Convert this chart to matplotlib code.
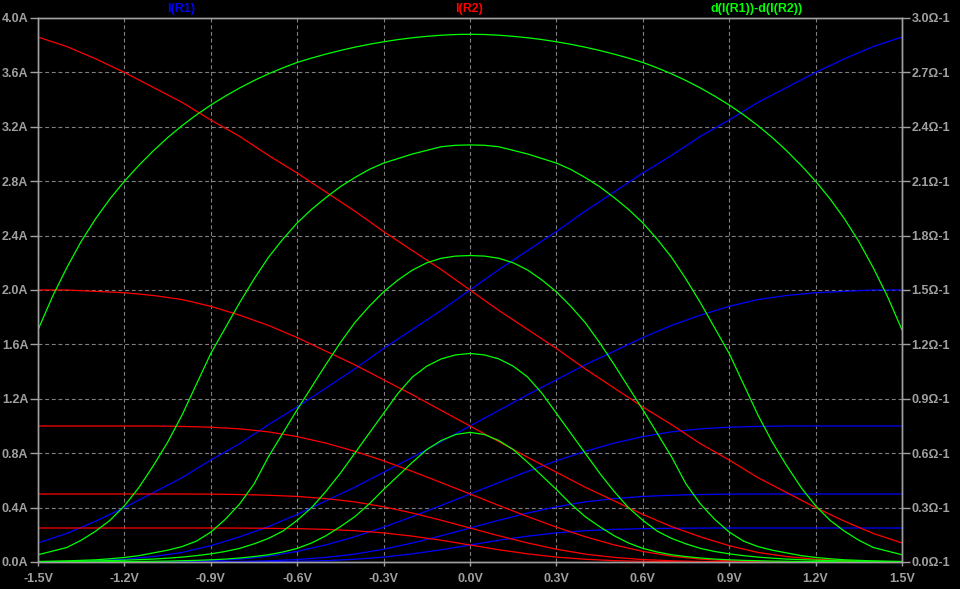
import numpy as np
import matplotlib
matplotlib.use("Agg")
import matplotlib.pyplot as plt

# sweep of the differential input voltage (V)
v_in = np.linspace(-1.5, 1.5, 31)     # currents read every 0.1 V
v_fine = np.linspace(-1.5, 1.5, 61)   # derivative read every 0.05 V

# I(R1) for each tail current (A)
i_r1_4a = [0.14, 0.21, 0.30, 0.40, 0.51, 0.62, 0.75, 0.87, 1.01, 1.14, 1.28, 1.42, 1.57, 1.71, 1.85, 2.00,
           2.15, 2.29, 2.43, 2.58, 2.72, 2.86, 2.99, 3.13, 3.25, 3.38, 3.49, 3.60, 3.70, 3.79, 3.86]
i_r1_2a = [0.00, 0.00, 0.01, 0.02, 0.04, 0.07, 0.12, 0.185, 0.26, 0.35, 0.45, 0.55, 0.66, 0.77, 0.885, 1.00,
           1.115, 1.23, 1.34, 1.45, 1.55, 1.65, 1.74, 1.815, 1.88, 1.93, 1.96, 1.98, 1.99, 2.00, 2.00]
i_r1_1a = [0.0, 0.0, 0.0, 0.0, 0.0, 0.003, 0.009, 0.021, 0.043, 0.078, 0.126, 0.186, 0.256, 0.334, 0.416, 0.50,
           0.584, 0.666, 0.744, 0.814, 0.874, 0.922, 0.957, 0.979, 0.991, 0.997, 1.0, 1.0, 1.0, 1.0, 1.0]
i_r1_05a = [0.0, 0.0, 0.0, 0.0, 0.0, 0.0, 0.001, 0.004, 0.009, 0.018, 0.034, 0.058, 0.094, 0.140, 0.193, 0.25,
            0.307, 0.360, 0.406, 0.442, 0.466, 0.482, 0.491, 0.496, 0.499, 0.50, 0.50, 0.50, 0.50, 0.50, 0.50]
i_r1_025a = [0.0, 0.0, 0.0, 0.0, 0.0, 0.0, 0.0, 0.0005, 0.002, 0.005, 0.010, 0.020, 0.036, 0.060, 0.090, 0.125,
             0.160, 0.190, 0.214, 0.230, 0.240, 0.245, 0.248, 0.2495, 0.25, 0.25, 0.25, 0.25, 0.25, 0.25, 0.25]

# d(I(R1))-d(I(R2)) (1/ohm), right axis
g_4a = [1.28, 1.463, 1.623, 1.768, 1.893, 2.003, 2.10, 2.187, 2.267, 2.34, 2.406, 2.466, 2.52, 2.569, 2.614,
        2.655, 2.692, 2.725, 2.755, 2.779, 2.801, 2.821, 2.839, 2.855, 2.869, 2.881, 2.891, 2.899, 2.905, 2.909,
        2.91,
        2.909, 2.905, 2.899, 2.891, 2.881, 2.869, 2.855, 2.839, 2.821, 2.801, 2.779, 2.755, 2.725, 2.692,
        2.655, 2.614, 2.569, 2.52, 2.466, 2.406, 2.34, 2.267, 2.187, 2.10, 2.003, 1.893, 1.768, 1.623, 1.463, 1.28]
g_2a = [0.04, 0.06, 0.08, 0.12, 0.17, 0.23, 0.31, 0.41, 0.53, 0.66, 0.81, 0.98, 1.15, 1.29, 1.43, 1.56,
        1.68, 1.78, 1.87, 1.945, 2.01, 2.07, 2.12, 2.165, 2.20, 2.225, 2.25, 2.27, 2.29, 2.298, 2.30,
        2.298, 2.29, 2.27, 2.25, 2.225, 2.20, 2.165, 2.12, 2.07, 2.01, 1.945, 1.87, 1.78, 1.68, 1.56,
        1.43, 1.29, 1.15, 0.98, 0.81, 0.66, 0.53, 0.41, 0.31, 0.23, 0.17, 0.12, 0.08, 0.06, 0.04]
g_1a = [0.003, 0.004, 0.006, 0.009, 0.012, 0.018, 0.025, 0.035, 0.05, 0.065, 0.085, 0.115, 0.165, 0.235,
        0.32, 0.43, 0.58, 0.71, 0.84, 0.965, 1.09, 1.21, 1.32, 1.41, 1.49, 1.555, 1.61, 1.65, 1.675, 1.687,
        1.69,
        1.687, 1.675, 1.65, 1.61, 1.555, 1.49, 1.41, 1.32, 1.21, 1.09, 0.965, 0.84, 0.71, 0.58, 0.43,
        0.32, 0.235, 0.165, 0.115, 0.085, 0.065, 0.05, 0.035, 0.025, 0.018, 0.012, 0.009, 0.006, 0.004, 0.003]
g_05a = [0.002, 0.003, 0.004, 0.005, 0.006, 0.008, 0.010, 0.013, 0.016, 0.021, 0.027, 0.035, 0.045, 0.058,
         0.075, 0.10, 0.13, 0.17, 0.23, 0.30, 0.39, 0.49, 0.60, 0.71, 0.82, 0.93, 1.02, 1.08, 1.12, 1.142,
         1.15,
         1.142, 1.12, 1.08, 1.02, 0.93, 0.82, 0.71, 0.60, 0.49, 0.39, 0.30, 0.23, 0.17, 0.13, 0.10,
         0.075, 0.058, 0.045, 0.035, 0.027, 0.021, 0.016, 0.013, 0.010, 0.008, 0.006, 0.005, 0.004, 0.003, 0.002]
g_025a = [0.0, 0.0, 0.001, 0.001, 0.001, 0.002, 0.002, 0.003, 0.004, 0.005, 0.007, 0.009, 0.012, 0.016,
          0.022, 0.03, 0.04, 0.055, 0.075, 0.105, 0.145, 0.195, 0.25, 0.32, 0.40, 0.475, 0.55, 0.62, 0.67,
          0.703, 0.715,
          0.703, 0.67, 0.62, 0.55, 0.475, 0.40, 0.32, 0.25, 0.195, 0.145, 0.105, 0.075, 0.055, 0.04, 0.03,
          0.022, 0.016, 0.012, 0.009, 0.007, 0.005, 0.004, 0.003, 0.002, 0.002, 0.001, 0.001, 0.001, 0.0, 0.0]

i_r1_curves = [i_r1_4a, i_r1_2a, i_r1_1a, i_r1_05a, i_r1_025a]
# I(R2) is the mirror image of I(R1)
i_r2_curves = [c[::-1] for c in i_r1_curves]
g_curves = [g_4a, g_2a, g_1a, g_05a, g_025a]

x_ticks = [-1.5, -1.2, -0.9, -0.6, -0.3, 0.0, 0.3, 0.6, 0.9, 1.2, 1.5]
x_labels = ["-1.5V", "-1.2V", "-0.9V", "-0.6V", "-0.3V", "0.0V", "0.3V", "0.6V", "0.9V", "1.2V", "1.5V"]
y_ticks = [0.0, 0.4, 0.8, 1.2, 1.6, 2.0, 2.4, 2.8, 3.2, 3.6, 4.0]
y_labels = ["0.0A", "0.4A", "0.8A", "1.2A", "1.6A", "2.0A", "2.4A", "2.8A", "3.2A", "3.6A", "4.0A"]
y2_ticks = [0.0, 0.3, 0.6, 0.9, 1.2, 1.5, 1.8, 2.1, 2.4, 2.7, 3.0]
y2_labels = ["0.0Ω-1", "0.3Ω-1", "0.6Ω-1", "0.9Ω-1", "1.2Ω-1", "1.5Ω-1",
             "1.8Ω-1", "2.1Ω-1", "2.4Ω-1", "2.7Ω-1", "3.0Ω-1"]

plt.rcParams['font.family'] = ['Liberation Sans', 'DejaVu Sans']
plt.rcParams['font.weight'] = 'bold'

axis_col = '#a0a0a0'
grid_col = '#808080'
fs = 9

fig = plt.figure(figsize=(9.6, 5.89), dpi=100, facecolor='black')
ax = fig.add_axes([38 / 960, 27 / 589, 864 / 960, 544 / 589], facecolor='black')
ax2 = ax.twinx()

for c in i_r1_curves:
    ax.plot(v_in, c, color='#0000ff', lw=0.9)
for c in i_r2_curves:
    ax.plot(v_in, c, color='#ff0000', lw=0.9)
for c in g_curves:
    ax2.plot(v_fine, c, color='#00ff00', lw=0.9)

ax.set_xlim(-1.5, 1.5)
ax.set_ylim(0, 4.0)
ax2.set_ylim(0, 3.0)

ax.set_xticks(x_ticks)
ax.set_xticklabels(x_labels)
ax.set_yticks(y_ticks)
ax.set_yticklabels(y_labels)
ax2.set_yticks(y2_ticks)
ax2.set_yticklabels(y2_labels)

ax.grid(True, color=grid_col, linestyle=(0, (3.5, 2.5)), lw=0.8)
ax.set_axisbelow(True)

for a in (ax, ax2):
    for s in a.spines.values():
        s.set_color(axis_col)
        s.set_linewidth(1.0)
ax.tick_params(axis='x', colors=axis_col, labelsize=fs, length=3, width=1, pad=5)
ax.tick_params(axis='y', colors=axis_col, labelsize=fs, length=6, width=1, pad=1)
ax2.tick_params(axis='y', colors=axis_col, labelsize=fs, length=6, width=1, pad=1)

fig.text(181 / 960, 1 - 9 / 589, "I(R1)", color='#0000ff', fontsize=fs, ha='center', va='center')
fig.text(469 / 960, 1 - 9 / 589, "I(R2)", color='#ff0000', fontsize=fs, ha='center', va='center')
fig.text(757 / 960, 1 - 9 / 589, "d(I(R1))-d(I(R2))", color='#00ff00', fontsize=fs, ha='center', va='center')

fig.savefig("out.png", dpi=100, facecolor='black')
